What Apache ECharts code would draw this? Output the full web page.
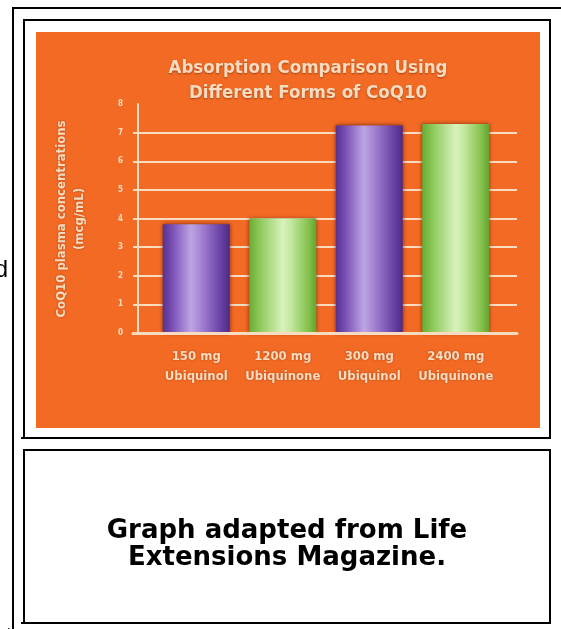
<!DOCTYPE html>
<html><head><meta charset="utf-8">
<script src="https://cdn.jsdelivr.net/npm/echarts@6/dist/echarts.min.js"></script>
<style>html,body{margin:0;padding:0;background:#fff;}#c{width:561px;height:629px;}</style>
</head><body><div id="c"></div>
<script>
// ---- data ----
const categories = ['150 mg\nUbiquinol', '1200 mg\nUbiquinone', '300 mg\nUbiquinol', '2400 mg\nUbiquinone'];
const values = [3.8, 4.0, 7.25, 7.3];
const forms = ['ubiquinol', 'ubiquinone', 'ubiquinol', 'ubiquinone'];
const yMin = 0, yMax = 8, yStep = 1;
const titleLines = ['Absorption Comparison Using', 'Different Forms of CoQ10'];
const yName = ['CoQ10 plasma concentrations', '(mcg/mL)'];
const captionLines = ['Graph adapted from Life', 'Extensions Magazine.'];

// ---- styles ----
const cream = '#f8dcc0';
const orange = '#f26a24';
const condensed = '"DejaVu Sans Condensed", "Liberation Sans Narrow", "DejaVu Sans", sans-serif';
function grad(stops) { return new echarts.graphic.LinearGradient(0, 0, 1, 0, stops); }
const fills = {
  ubiquinol: grad([
    { offset: 0, color: '#58308e' }, { offset: 0.15, color: '#7a52b6' },
    { offset: 0.42, color: '#bea4e4' }, { offset: 0.55, color: '#a888d6' },
    { offset: 0.85, color: '#6c44a8' }, { offset: 1, color: '#4e2a84' }]),
  ubiquinone: grad([
    { offset: 0, color: '#6aac34' }, { offset: 0.15, color: '#8cc858' },
    { offset: 0.5, color: '#d8f2bc' }, { offset: 0.62, color: '#c4e8a0' },
    { offset: 0.88, color: '#86c24e' }, { offset: 1, color: '#64a430' }])
};
const nTicks = (yMax - yMin) / yStep + 1;
const splitColors = [];
for (let i = 0; i < nTicks; i++) splitColors.push(i === nTicks - 1 ? 'rgba(0,0,0,0)' : cream);
const captionFont = 'bold 26px "DejaVu Sans", Verdana, sans-serif';

const chart = echarts.init(document.getElementById('c'), null, { renderer: 'canvas' });
chart.setOption({
  backgroundColor: '#ffffff',
  animation: false,
  title: {
    text: titleLines.join('\n'),
    left: 303, top: 51, textAlign: 'center',
    textStyle: {
      color: cream, fontFamily: condensed, fontWeight: 'bold', fontSize: 18.5, lineHeight: 25,
      textShadowColor: 'rgba(110,30,0,0.55)', textShadowBlur: 2, textShadowOffsetY: 1
    }
  },
  grid: [
    { left: 133, right: 44, top: 104, bottom: 296 },
    { left: 153, right: 62, top: 104, bottom: 296 }
  ],
  xAxis: [
    { type: 'category', gridIndex: 0, data: categories,
      axisLabel: { show: false }, axisTick: { show: false },
      axisLine: { show: true, lineStyle: { color: cream, width: 3 } }, z: 3 },
    { type: 'category', gridIndex: 1, data: categories,
      axisLine: { show: false }, axisTick: { show: false },
      axisLabel: { interval: 0, color: cream, fontFamily: condensed, fontWeight: 'bold', fontSize: 13, lineHeight: 20, margin: 14,
        textShadowColor: 'rgba(110,30,0,0.5)', textShadowBlur: 2 } }
  ],
  yAxis: [
    { type: 'value', gridIndex: 0, min: yMin, max: yMax, interval: yStep, offset: -5,
      axisLine: { show: true, lineStyle: { color: cream, width: 2 } },
      axisTick: { show: false },
      axisLabel: { color: cream, fontFamily: condensed, fontWeight: 'bold', fontSize: 8, margin: 15 },
      splitLine: { show: true, lineStyle: { color: splitColors, width: 2 } } },
    { type: 'value', gridIndex: 1, min: yMin, max: yMax, interval: yStep, show: false,
      splitLine: { show: false } }
  ],
  series: [{
    type: 'bar', xAxisIndex: 1, yAxisIndex: 1, barWidth: 67, z: 2,
    data: values.map((v, i) => ({ value: v, itemStyle: { color: fills[forms[i]] } })),
    itemStyle: { shadowBlur: 4, shadowColor: 'rgba(90,20,10,0.75)' }
  }],
  graphic: [
    { type: 'rect', z: -10, shape: { x: 36, y: 32, width: 504, height: 396 }, style: { fill: orange } },
    { type: 'rect', shape: { x: 12, y: 7, width: 549, height: 2 }, style: { fill: '#000' } },
    { type: 'rect', shape: { x: 12, y: 7, width: 2, height: 622 }, style: { fill: '#000' } },
    { type: 'rect', shape: { x: 24, y: 20, width: 526, height: 418 }, style: { fill: 'none', stroke: '#000', lineWidth: 2 } },
    { type: 'rect', shape: { x: 21, y: 437, width: 4, height: 2 }, style: { fill: '#000' } },
    { type: 'rect', shape: { x: 24, y: 450, width: 526, height: 173 }, style: { fill: 'none', stroke: '#000', lineWidth: 2 } },
    { type: 'rect', shape: { x: 21, y: 622, width: 4, height: 2 }, style: { fill: '#000' } },
    { type: 'text', x: 71, y: 219, rotation: Math.PI / 2,
      style: { text: yName.join('\n'), fill: cream, font: 'bold 13px ' + condensed, lineHeight: 18,
        align: 'center', verticalAlign: 'middle', textShadowColor: 'rgba(110,30,0,0.5)', textShadowBlur: 2 } },
    { type: 'text', x: 287, y: 531,
      style: { text: captionLines[0], fill: '#000', font: captionFont, align: 'center', verticalAlign: 'middle' } },
    { type: 'text', x: 287, y: 558,
      style: { text: captionLines[1], fill: '#000', font: captionFont, align: 'center', verticalAlign: 'middle' } },
    { type: 'text', x: 8, y: 270,
      style: { text: 'd', fill: '#000', font: '24px "Liberation Sans", Arial, sans-serif', align: 'right', verticalAlign: 'middle' } },
    { type: 'text', x: 6, y: 636,
      style: { text: '/', fill: '#000', font: 'italic 16px "Liberation Sans", Arial, sans-serif', align: 'center', verticalAlign: 'middle' } }
  ]
});
</script>
</body></html>
